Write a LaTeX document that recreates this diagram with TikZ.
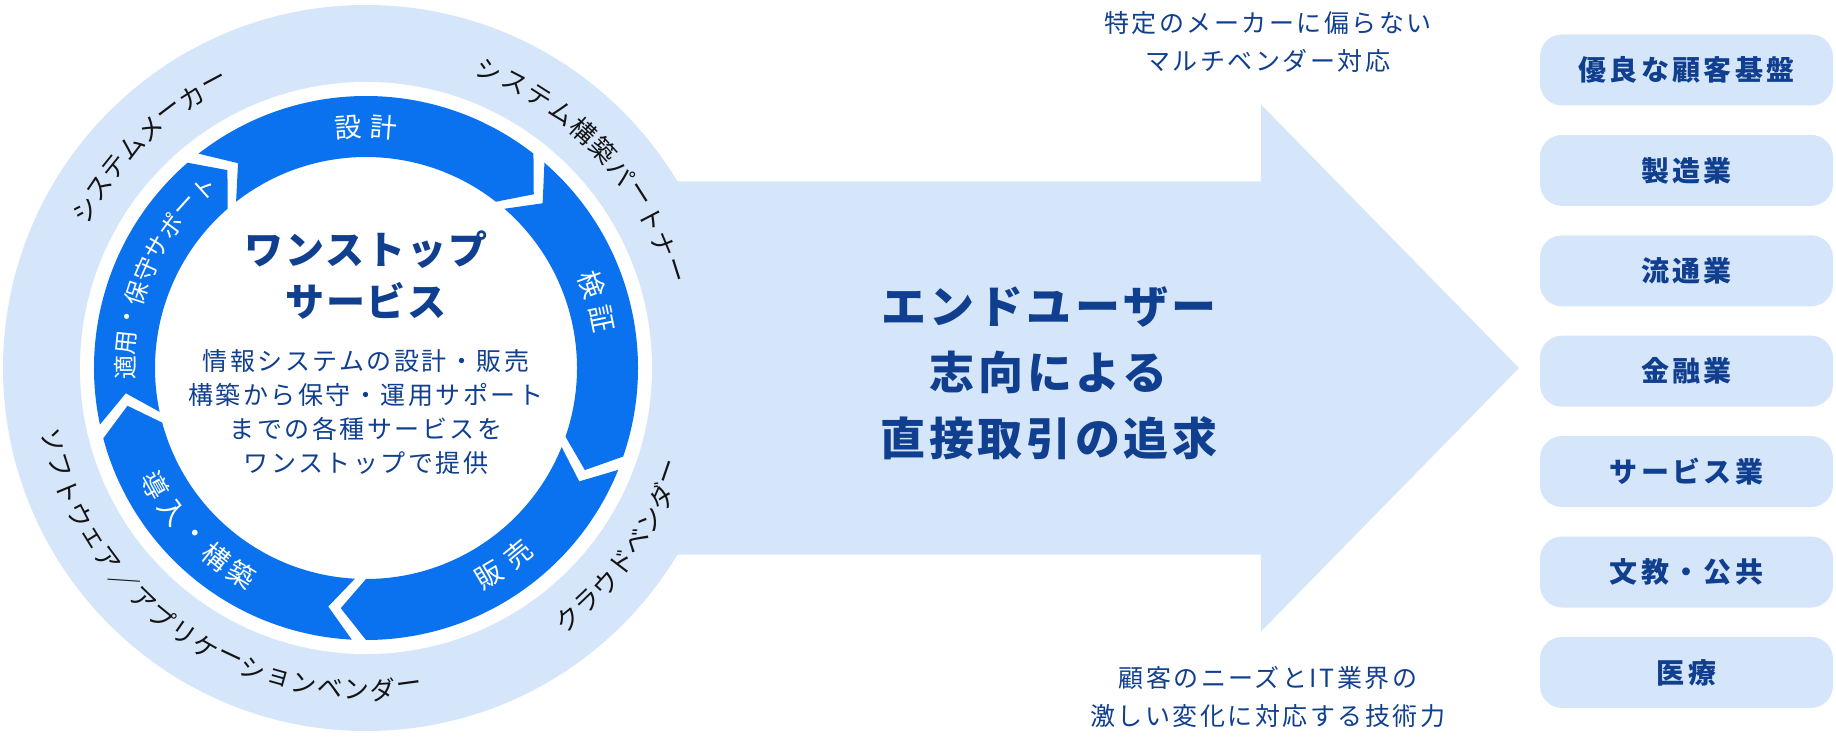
\documentclass[tikz,border=0pt]{standalone}
\usepackage{fontspec}
\setmainfont{Noto Sans CJK JP}
\usepackage{xcolor}
\usetikzlibrary{positioning}

\definecolor{ringlight}{HTML}{D6E6FA}
\definecolor{ringblue}{HTML}{0A72EE}
\definecolor{textnavy}{HTML}{103F8F}

\tikzset{
  outerchar/.style={inner sep=0pt, text=black!92, font=\fontsize{25.5}{25.5}\selectfont},
  bluechar/.style={inner sep=0pt, text=white, font=\fontsize{27}{27}\selectfont},
  smallbluechar/.style={inner sep=0pt, text=white, font=\fontsize{24}{24}\selectfont},
  sidenote/.style={align=center, text=textnavy, font=\fontsize{25}{38}\selectfont\addfontfeatures{LetterSpace=10}},
  sectorbox/.style={fill=ringlight, rounded corners=22pt, minimum width=293pt, minimum height=71pt, inner sep=0pt,
    text=textnavy, font=\bfseries\fontsize{28}{28}\selectfont\addfontfeatures{LetterSpace=12}},
}

\newcommand{\arccw}[7]{%
  \foreach \ch [count=\i from 0] in {#7} {
    \pgfmathsetmacro{\ang}{#4+((#6-1)/2-\i)*#5}
    \node[#2, rotate=\ang-90] (#1-\i) at (\ang:#3) {\ch};
  }}
\newcommand{\arcccw}[7]{%
  \foreach \ch [count=\i from 0] in {#7} {
    \pgfmathsetmacro{\ang}{#4-((#6-1)/2-\i)*#5}
    \node[#2, rotate=\ang+90] (#1-\i) at (\ang:#3) {\ch};
  }}

\begin{document}
\begin{tikzpicture}[x=1pt, y=1pt]
	\useasboundingbox (-366,-376) rectangle (1470,368);
	\fill[ringlight] (0,0) circle[radius=363];
	\fill[ringlight] (0,186.5) -- (895,186.5) -- (895,263.5) -- (1153,0) -- (895,-263.5) -- (895,-186.5) -- (0,-186.5) -- cycle;
	\fill[white] (0,0) circle[radius=286];
	% cycle of five steps
	\foreach \s/\e in {128/52, 49/-19, -22/-90, -93/-165, 192/131}
		\fill[ringblue] (\s:272) arc[start angle=\s, end angle=\e, radius=272] -- (\e-6:241.5) -- (\e:211)
			arc[start angle=\e, end angle=\s, radius=211] -- (\s-6:241.5) -- cycle;
	\arccw{design}{bluechar}{241}{90}{8.6}{2}{設,計}
	\arccw{verify}{bluechar}{241}{16}{8.6}{2}{検,証}
	\arcccw{sales}{bluechar}{241}{-55}{8.6}{2}{販,売}
	\arcccw{build}{bluechar}{241}{-136}{7.5}{5}{導,入,・,構,築}
	\arccw{support}{smallbluechar}{241}{156}{6.0}{9}{適,用,・,保,守,サ,ポ,ー,ト}
	% partners round the ring
	\arccw{maker}{outerchar}{322}{134.3}{4.65}{8}{シ,ス,テ,ム,メ,ー,カ,ー}
	\arccw{partner}{outerchar}{322}{42.5}{5.0}{11}{シ,ス,テ,ム,構,築,パ,ー,ト,ナ,ー}
	\arcccw{cloud}{outerchar}{322}{-35}{4.6}{8}{ク,ラ,ウ,ド,ベ,ン,ダ,ー}
	\arcccw{software}{outerchar}{322}{235.4}{4.7}{19}{ソ,フ,ト,ウ,ェ,ア,／,ア,プ,リ,ケ,ー,シ,ョ,ン,ベ,ン,ダ,ー}
	\node[align=center, text=textnavy, font=\bfseries\fontsize{39}{52}\selectfont\addfontfeatures{LetterSpace=5}] (onestop) at (0,93) {ワンストップ\\サービス};
	\node[align=center, text=textnavy, font=\fontsize{25}{34}\selectfont\addfontfeatures{LetterSpace=10}] (onestopdesc) at (0,-44)
		{情報システムの設計・販売\\構築から保守・運用サポート\\までの各種サービスを\\ワンストップで提供};
	\node[align=center, text=textnavy, font=\bfseries\fontsize{45}{66}\selectfont\addfontfeatures{LetterSpace=8}] (enduser) at (683,-5)
		{エンドユーザー\\志向による\\直接取引の追求};
	\node[sidenote] (multivendor) at (902,326) {特定のメーカーに偏らない\\マルチベンダー対応};
	\node[sidenote] (techpower) at (902,-329) {顧客のニーズとIT業界の\\激しい変化に対応する技術力};
	\foreach \sector [count=\i from 0] in {優良な顧客基盤, 製造業, 流通業, 金融業, サービス業, 文教・公共, 医療}
		\node[sectorbox] (sector-\i) at (1320.5,{298-100.4*\i}) {\sector};
\end{tikzpicture}
\end{document}
